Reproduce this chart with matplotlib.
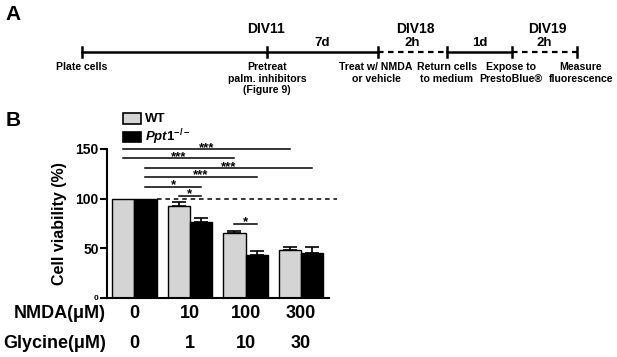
import matplotlib
matplotlib.use("Agg")
import matplotlib.pyplot as plt
import matplotlib.transforms as mtransforms
from matplotlib.patches import Rectangle

plt.rcParams['font.family'] = ['Liberation Sans', 'DejaVu Sans']
plt.rcParams['font.weight'] = 'bold'
plt.rcParams['mathtext.fontset'] = 'custom'
plt.rcParams['mathtext.it'] = 'Liberation Sans:italic:bold'
plt.rcParams['mathtext.rm'] = 'Liberation Sans:bold'

# ---- panel A: timeline (schematic, pixel positions) ----
event_x = [82, 267, 378, 447, 512, 577]
event_labels = ["Plate cells", "Pretreat\npalm. inhibitors\n(Figure 9)", "Treat w/ NMDA\nor vehicle",
                "Return cells\nto medium", "Expose to\nPrestoBlue®", "Measure\nfluorescence"]
label_x = [82, 267, 376, 447, 511, 581]
segment_styles = ['-', '-', '--', '-', '--']
segment_labels = ["", "7d", "2h", "1d", "2h"]
div_labels = {"DIV11": 266, "DIV18": 415, "DIV19": 547}

# ---- panel B: viability ----
nmda = ["0", "10", "100", "300"]
glycine = ["0", "1", "10", "30"]
wt_mean = [100, 93, 65, 48]
wt_err = [0, 4, 2, 3]
ko_mean = [100, 77, 43, 45.5]
ko_err = [0, 4, 4, 5.5]

# significance brackets: (x_start, x_end, y, label)
sig_brackets = [
    (-0.2, 2.8, 150, "***"),
    (-0.2, 1.8, 141, "***"),
    (0.2, 3.2, 131, "***"),
    (0.2, 2.2, 122, "***"),
    (0.2, 1.2, 112, "*"),
    (0.8, 1.2, 103, "*"),
    (1.8, 2.2, 75, "*"),
]

W, H = 617, 357
fig = plt.figure(figsize=(W / 100, H / 100), dpi=100)

# overlay axes in pixel coords for panel A, legend and panel letters
ov = fig.add_axes([0, 0, 1, 1])
ov.set_xlim(0, W)
ov.set_ylim(H, 0)
ov.axis('off')

ty = 52
for i, style in enumerate(segment_styles):
    x0, x1 = event_x[i], event_x[i + 1]
    if style == '--':
        ov.plot([x0, x1], [ty, ty], color='black', lw=1.6, ls=(0, (2.5, 2)))
    else:
        ov.plot([x0, x1], [ty, ty], color='black', lw=1.8)
    if segment_labels[i]:
        ov.text((x0 + x1) / 2, ty - 3, segment_labels[i], ha='center', va='bottom', fontsize=9.5)
for x in event_x:
    ov.plot([x, x], [ty - 5, ty + 5], color='black', lw=1.8)
for x, lab in zip(label_x, event_labels):
    ov.text(x, ty + 10, lab, ha='center', va='top', fontsize=7.6, linespacing=1.2)
for lab, x in div_labels.items():
    ov.text(x, 29, lab, ha='center', va='center', fontsize=10)

ov.text(13, 15, "A", ha='center', va='center', fontsize=15)
ov.text(13, 120, "B", ha='center', va='center', fontsize=15)

# ---- bar chart ----
ax = fig.add_axes([107 / W, 1 - 298 / H, (329 - 107) / W, (298 - 149) / H])
x = list(range(len(nmda)))
bw = 0.4
ekw = dict(ecolor='black', elinewidth=1.2, capsize=5, capthick=1.2)
ax.bar([i - bw / 2 for i in x], wt_mean, bw, color='#d4d4d4', edgecolor='black', linewidth=1.0, zorder=2)
ax.bar([i + bw / 2 for i in x], ko_mean, bw, color='black', edgecolor='black', linewidth=1.0, zorder=2)
for i in x:
    if wt_err[i] > 0:
        ax.errorbar(i - bw / 2, wt_mean[i], yerr=[[0], [wt_err[i]]], fmt='none', zorder=1, **ekw)
    if ko_err[i] > 0:
        ax.errorbar(i + bw / 2, ko_mean[i], yerr=[[0], [ko_err[i]]], fmt='none', zorder=1, **ekw)

ax.plot([0.4, 3.65], [100, 100], color='black', lw=1.1, ls=(0, (3, 2.5)), clip_on=False, zorder=1)

for x0, x1, y, lab in sig_brackets:
    ax.plot([x0, x1], [y, y], color='black', lw=1.1, clip_on=False)
    ax.annotate(lab, xy=((x0 + x1) / 2, y), xytext=(0, -1.3), textcoords='offset points',
                ha='center', va='baseline', fontsize=9.5)

ax.set_xlim(-0.49, 3.5)
ax.set_ylim(0, 150)
ax.set_yticks([0, 50, 100, 150])
ax.set_yticklabels(["0", "50", "100", "150"], fontsize=10, fontweight='bold')
ax.get_yticklabels()[0].set_fontsize(6)
ax.set_xticks([])
ax.spines['top'].set_visible(False)
ax.spines['right'].set_visible(False)
ax.spines['left'].set_linewidth(1.5)
ax.spines['bottom'].set_linewidth(1.5)
ax.tick_params(axis='y', direction='out', length=5, width=1.5, pad=1)
ax.set_ylabel("Cell viability (%)", fontsize=11.5, fontweight='bold', labelpad=6)

trans = mtransforms.blended_transform_factory(ax.transData, fig.transFigure)
for i in x:
    ax.text(i, 1 - 313 / H, nmda[i], transform=trans, ha='center', va='center', fontsize=13)
    ax.text(i, 1 - 343 / H, glycine[i], transform=trans, ha='center', va='center', fontsize=13)
fig.text(106 / W, 1 - 313 / H, "NMDA(μM)", ha='right', va='center', fontsize=13)
fig.text(106 / W, 1 - 343 / H, "Glycine(μM)", ha='right', va='center', fontsize=13)

# legend drawn manually
ov.add_patch(Rectangle((123, 113), 18, 11, facecolor='#d4d4d4', edgecolor='black', lw=1.2))
ov.add_patch(Rectangle((123, 132), 18, 10, facecolor='black', edgecolor='black', lw=1.2))
ov.text(145, 119, "WT", ha='left', va='center', fontsize=9.5)
ov.text(145, 137, r"$\mathit{Ppt1}^{\mathit{-/-}}$", ha='left', va='center', fontsize=9.5)

fig.savefig("out.png", dpi=100)
